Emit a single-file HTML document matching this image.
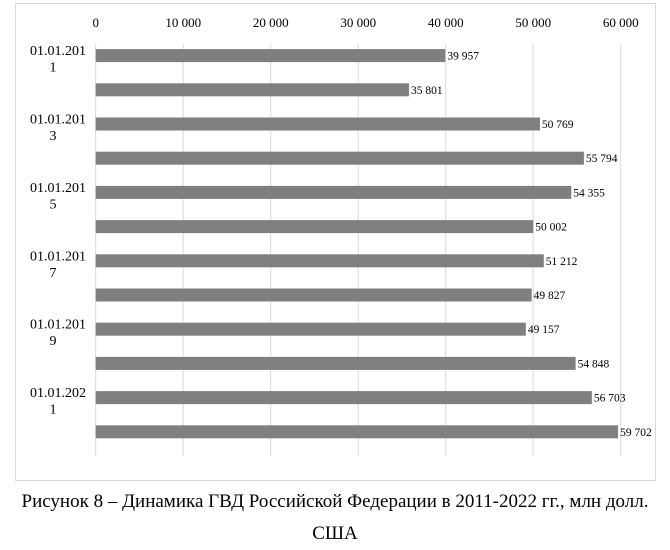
<!DOCTYPE html>
<html><head><meta charset="utf-8"><style>
body{margin:0;background:#fff;width:670px;height:550px;overflow:hidden;font-family:"Liberation Serif","DejaVu Serif",serif}
svg text{font-family:"Liberation Serif","DejaVu Serif",serif;fill:#000}
.cap{position:absolute;left:0;width:670px;text-align:center;font-size:19px;font-family:"Liberation Serif","DejaVu Serif",serif}
</style></head><body>
<svg width="670" height="490" style="position:absolute;left:0;top:0" id="c">
<rect x="15.5" y="3.5" width="640" height="477" fill="#fff" stroke="#d9d9d9"/>
</svg>
<div class="cap" style="top:491px">Рисунок 8 – Динамика ГВД Российской Федерации в 2011-2022 гг., млн долл.</div>
<div class="cap" style="top:523px">США</div>
<script>
const categories=["01.01.2011","01.01.2012","01.01.2013","01.01.2014","01.01.2015","01.01.2016","01.01.2017","01.01.2018","01.01.2019","01.01.2020","01.01.2021","01.01.2022"];
const values=[39957,35801,50769,55794,54355,50002,51212,49827,49157,54848,56703,59702];
const valueLabels=["39 957","35 801","50 769","55 794","54 355","50 002","51 212","49 827","49 157","54 848","56 703","59 702"];
const ticks=[0,10000,20000,30000,40000,50000,60000];
const tickLabels=["0","10 000","20 000","30 000","40 000","50 000","60 000"];
const svg=document.getElementById('c');const NS="http://www.w3.org/2000/svg";
const x0=95.7,xMax=60000,xW=525;
const x=v=>x0+v/xMax*xW;
const yTop=38.5,step=34.2;
const yc=i=>yTop+step*(i+0.5);
function mk(t,a){const e=document.createElementNS(NS,t);for(const k in a)e.setAttribute(k,a[k]);svg.appendChild(e);return e;}
ticks.forEach((t,i)=>{
 const g=mk('line',{x1:x(t),x2:x(t),y1:44,y2:456,stroke:'#d9d9d9','stroke-width':1});
 
 
 const l=mk('text',{x:x(t),y:27,'text-anchor':'middle','font-size':13});
 l.textContent=tickLabels[i];
 
 
});
values.forEach((v,i)=>{
 const b=mk('rect',{x:x(0),y:yc(i)-6.5,width:x(v)-x(0),height:13,fill:'#7f7f7f'});
 
 
 const t=mk('text',{x:x(v)+2,y:yc(i)+4,'font-size':11.5});
 t.textContent=valueLabels[i];
 
 
 if(i%2===0){
  const c=mk('text',{x:58,y:yc(i)-0.5,'text-anchor':'middle','font-size':14});
  c.textContent=categories[i].slice(0,9);
  
  
  const c2=mk('text',{x:53,y:yc(i)+16,'text-anchor':'middle','font-size':14});
  c2.textContent=categories[i].slice(9);
  
  
 }
});
</script>
</body></html>
